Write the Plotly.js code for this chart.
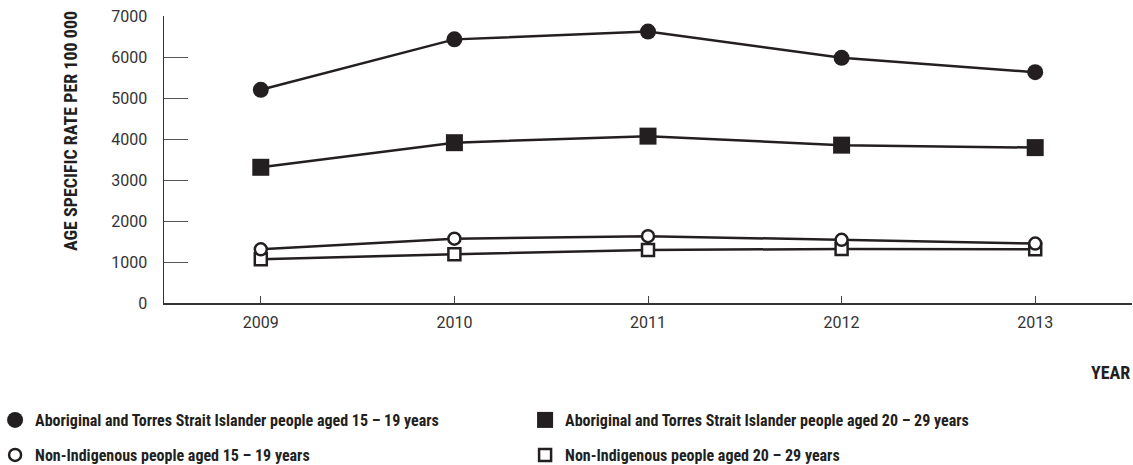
<!DOCTYPE html>
<html>
<head>
<meta charset="utf-8">
<script src="https://cdn.plot.ly/plotly-3.0.1.min.js"></script>
<style>
  html, body { margin: 0; padding: 0; background: #fff; }
  #chart { width: 1133px; height: 465px; }
</style>
</head>
<body>
<div id="chart"></div>
<script>
const years = [2009, 2010, 2011, 2012, 2013];
const seriesNames = [
  'Aboriginal and Torres Strait Islander people aged 15 – 19 years',
  'Aboriginal and Torres Strait Islander people aged 20 – 29 years',
  'Non-Indigenous people aged 15 – 19 years',
  'Non-Indigenous people aged 20 – 29 years'
];
const indig1519 = [5200, 6430, 6620, 5980, 5630];
const indig2029 = [3310, 3910, 4070, 3850, 3790];
const nonInd1519 = [1310, 1570, 1630, 1540, 1450];
const nonInd2029 = [1070, 1190, 1290, 1320, 1310];
const yTicks = [0, 1000, 2000, 3000, 4000, 5000, 6000, 7000];
const yTitle = 'AGE SPECIFIC RATE PER 100 000';
const xTitle = 'YEAR';

const INK = '#231f20';
const COND = '"Roboto Condensed", "Open Sans Condensed", sans-serif';
const styles = [
  {symbol: 'circle', size: 16, color: INK},
  {symbol: 'square', size: 17, color: INK},
  {symbol: 'circle', size: 12, color: '#ffffff'},
  {symbol: 'square', size: 12, color: '#ffffff'}
];
const values = [indig1519, indig2029, nonInd1519, nonInd2029];
const legendIds = ['legend', 'legend', 'legend2', 'legend2'];

const traces = [];
[3, 2, 1, 0].forEach(i => {
  const s = styles[i];
  traces.push({
    x: years, y: values[i], type: 'scatter', mode: 'lines+markers',
    name: seriesNames[i], showlegend: false, hoverinfo: 'x+y',
    line: {color: INK, width: 2.5},
    marker: {symbol: s.symbol, size: s.size, color: s.color,
             line: {color: INK, width: s.color === INK ? 0 : 2.5}}
  });
});
[0, 1, 2, 3].forEach(i => {
  const s = styles[i];
  traces.push({
    x: [null], y: [null], type: 'scatter', mode: 'markers',
    name: seriesNames[i], showlegend: true, legend: legendIds[i],
    marker: {symbol: s.symbol, size: s.color === INK ? 16 : 12, color: s.color,
             line: {color: INK, width: s.color === INK ? 0 : 2.5}}
  });
});

const legendFont = {family: COND, size: 16, color: INK, weight: 'bold'};

const layout = {
  width: 1133, height: 465,
  margin: {l: 164, r: 1, t: 16, b: 162, autoexpand: false},
  paper_bgcolor: '#fff', plot_bgcolor: '#fff',
  font: {family: 'Roboto, "Liberation Sans", sans-serif', color: INK},
  xaxis: {
    range: [2008.5, 2013.5], tickvals: years, ticktext: years.map(String),
    showgrid: false, zeroline: false,
    showline: true, linecolor: '#333', linewidth: 1.5,
    ticks: 'inside', ticklen: 7, tickcolor: '#444', tickwidth: 1,
    tickfont: {size: 16, color: '#333'}, ticklabelstandoff: 4
  },
  yaxis: {
    range: [0, 7000], tickvals: yTicks,
    showgrid: false, zeroline: false,
    showline: true, linecolor: '#333', linewidth: 1.5,
    ticks: 'inside', ticklen: 24, tickcolor: '#555', tickwidth: 1,
    tickfont: {size: 16, color: '#333'}, ticklabelstandoff: 12
  },
  legend: {
    orientation: 'h', x: -0.1745, xanchor: 'left', y: -0.4077, yanchor: 'middle',
    entrywidth: 485, font: legendFont, bgcolor: 'rgba(0,0,0,0)', itemclick: false
  },
  legend2: {
    orientation: 'h', x: -0.1745, xanchor: 'left', y: -0.5296, yanchor: 'middle',
    entrywidth: 485, font: legendFont, bgcolor: 'rgba(0,0,0,0)', itemclick: false
  },
  annotations: [{
    text: xTitle, xref: 'paper', yref: 'paper', x: 1, y: -0.2439,
    xanchor: 'right', yanchor: 'middle', showarrow: false,
    font: {family: COND, size: 18, weight: 'bold', color: INK}
  }, {
    text: yTitle, xref: 'paper', yref: 'paper', x: -0.0971, y: 0.5993,
    xanchor: 'center', yanchor: 'middle', textangle: -90, showarrow: false,
    font: {family: COND, size: 18, weight: 'bold', color: INK}
  }],
  showlegend: true
};

Plotly.newPlot('chart', traces, layout, {displayModeBar: false, staticPlot: true});
</script>
</body>
</html>
